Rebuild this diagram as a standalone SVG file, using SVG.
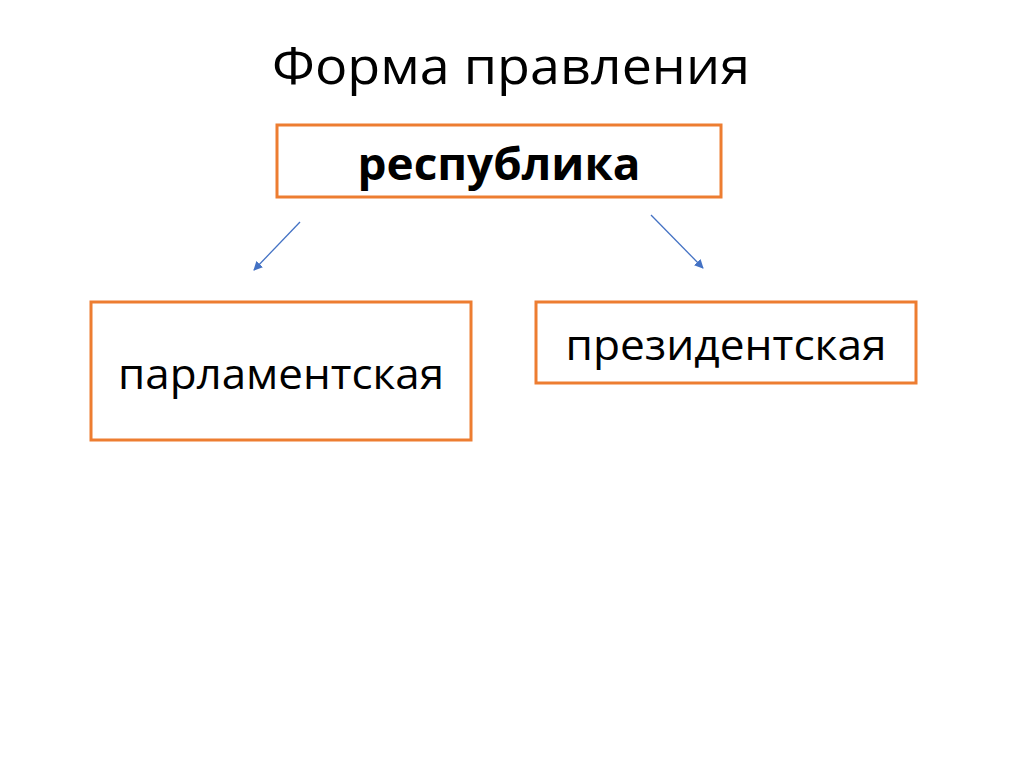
<svg xmlns="http://www.w3.org/2000/svg" width="1024" height="767" viewBox="0 0 1024 767">
<style>
.box{fill:#fff;stroke:#ED7D31;stroke-width:3}
.t{font-family:"Open Sans","Liberation Sans",sans-serif;fill:#000;text-anchor:middle}
.c{stroke:#4472C4;stroke-width:1.3;fill:none;marker-end:url(#a)}
</style>
<defs><marker id="a" viewBox="0 0 10 10" refX="9" refY="5" markerWidth="7" markerHeight="7" orient="auto"><path d="M0,0L10,5L0,10z" fill="#4472C4"/></marker></defs>
<rect width="1024" height="767" fill="#fff"/>
<text class="t" x="511" y="84" font-size="52" textLength="478" lengthAdjust="spacingAndGlyphs">Форма правления</text>
<g id="n1"><rect class="box" x="277" y="125" width="444" height="72"/><text class="t" x="499" y="180" font-size="44" font-weight="bold" textLength="283" lengthAdjust="spacingAndGlyphs">республика</text></g>
<g id="n2"><rect class="box" x="91" y="302" width="380" height="138"/><text class="t" x="281" y="389" font-size="42" textLength="326" lengthAdjust="spacingAndGlyphs">парламентская</text></g>
<g id="n3"><rect class="box" x="536" y="302" width="380" height="81"/><text class="t" x="726" y="360" font-size="42" textLength="321" lengthAdjust="spacingAndGlyphs">президентская</text></g>
<g id="connectors"><line class="c" x1="300" y1="222" x2="254" y2="270"/><line class="c" x1="651" y1="215" x2="703" y2="268"/></g>
</svg>
